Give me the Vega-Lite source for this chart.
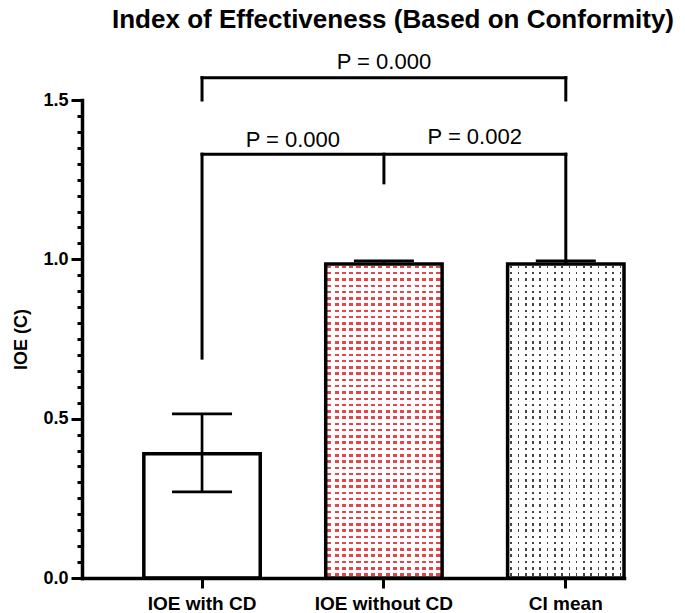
{
  "$schema": "https://vega.github.io/schema/vega-lite/v6.json",
  "width": 542,
  "height": 478,
  "autosize": "none",
  "padding": {"left": 82, "top": 100, "right": 61, "bottom": 35},
  "background": "white",
  "title": {"text": "Index of Effectiveness (Based on Conformity)", "font": "Liberation Sans", "fontSize": 26, "fontWeight": "bold", "color": "black", "anchor": "middle", "frame": "group", "dx": 40, "offset": -3, "baseline": "alphabetic"},
  "config": {"view": {"stroke": null}},
  "datasets": {
    "bars": [
      {"cat": "IOE with CD", "mean": 0.39, "lo": 0.27, "hi": 0.515},
      {"cat": "IOE without CD", "mean": 0.985, "lo": 0.975, "hi": 0.995},
      {"cat": "CI mean", "mean": 0.985, "lo": 0.975, "hi": 0.995}
    ],
    "brackets": [
      {"a": "IOE with CD", "b": "CI mean", "y": 1.57, "y2": 1.57},
      {"a": "IOE with CD", "b": "IOE with CD", "y": 1.5, "y2": 1.57},
      {"a": "CI mean", "b": "CI mean", "y": 1.5, "y2": 1.57},
      {"a": "IOE with CD", "b": "CI mean", "y": 1.33, "y2": 1.33},
      {"a": "IOE with CD", "b": "IOE with CD", "y": 0.69, "y2": 1.33},
      {"a": "CI mean", "b": "CI mean", "y": 0.99, "y2": 1.33},
      {"a": "IOE without CD", "b": "IOE without CD", "y": 1.24, "y2": 1.33}
    ],
    "ptop": [{"cat": "IOE without CD", "y": 1.62, "label": "P = 0.000"}],
    "pmid": [
      {"cat": "IOE with CD", "y": 1.374, "label": "P = 0.000"},
      {"cat": "IOE without CD", "y": 1.384, "label": "P = 0.002"}
    ]
  },
  "layer": [
    {
      "data": {"name": "bars"},
      "transform": [{"filter": "datum.cat == 'IOE without CD'"}],
      "mark": {"type": "bar", "fill": {"gradient": "linear", "x1": 0, "y1": 0, "x2": 1, "y2": 0, "stops": [
        {"offset": 0.014, "color": "#fff"}, {"offset": 0.014, "color": "#e8454a"}, {"offset": 0.049, "color": "#e8454a"}, {"offset": 0.049, "color": "#fff"},
        {"offset": 0.0765, "color": "#fff"}, {"offset": 0.0765, "color": "#e8454a"}, {"offset": 0.1115, "color": "#e8454a"}, {"offset": 0.1115, "color": "#fff"},
        {"offset": 0.139, "color": "#fff"}, {"offset": 0.139, "color": "#e8454a"}, {"offset": 0.174, "color": "#e8454a"}, {"offset": 0.174, "color": "#fff"},
        {"offset": 0.2015, "color": "#fff"}, {"offset": 0.2015, "color": "#e8454a"}, {"offset": 0.2365, "color": "#e8454a"}, {"offset": 0.2365, "color": "#fff"},
        {"offset": 0.264, "color": "#fff"}, {"offset": 0.264, "color": "#e8454a"}, {"offset": 0.299, "color": "#e8454a"}, {"offset": 0.299, "color": "#fff"},
        {"offset": 0.3265, "color": "#fff"}, {"offset": 0.3265, "color": "#e8454a"}, {"offset": 0.3615, "color": "#e8454a"}, {"offset": 0.3615, "color": "#fff"},
        {"offset": 0.389, "color": "#fff"}, {"offset": 0.389, "color": "#e8454a"}, {"offset": 0.424, "color": "#e8454a"}, {"offset": 0.424, "color": "#fff"},
        {"offset": 0.4515, "color": "#fff"}, {"offset": 0.4515, "color": "#e8454a"}, {"offset": 0.4865, "color": "#e8454a"}, {"offset": 0.4865, "color": "#fff"},
        {"offset": 0.514, "color": "#fff"}, {"offset": 0.514, "color": "#e8454a"}, {"offset": 0.549, "color": "#e8454a"}, {"offset": 0.549, "color": "#fff"},
        {"offset": 0.5765, "color": "#fff"}, {"offset": 0.5765, "color": "#e8454a"}, {"offset": 0.6115, "color": "#e8454a"}, {"offset": 0.6115, "color": "#fff"},
        {"offset": 0.639, "color": "#fff"}, {"offset": 0.639, "color": "#e8454a"}, {"offset": 0.674, "color": "#e8454a"}, {"offset": 0.674, "color": "#fff"},
        {"offset": 0.7015, "color": "#fff"}, {"offset": 0.7015, "color": "#e8454a"}, {"offset": 0.7365, "color": "#e8454a"}, {"offset": 0.7365, "color": "#fff"},
        {"offset": 0.764, "color": "#fff"}, {"offset": 0.764, "color": "#e8454a"}, {"offset": 0.799, "color": "#e8454a"}, {"offset": 0.799, "color": "#fff"},
        {"offset": 0.8265, "color": "#fff"}, {"offset": 0.8265, "color": "#e8454a"}, {"offset": 0.8615, "color": "#e8454a"}, {"offset": 0.8615, "color": "#fff"},
        {"offset": 0.889, "color": "#fff"}, {"offset": 0.889, "color": "#e8454a"}, {"offset": 0.924, "color": "#e8454a"}, {"offset": 0.924, "color": "#fff"},
        {"offset": 0.9515, "color": "#fff"}, {"offset": 0.9515, "color": "#e8454a"}, {"offset": 0.9865, "color": "#e8454a"}, {"offset": 0.9865, "color": "#fff"}
      ]}},
      "encoding": {
        "x": {"field": "cat", "type": "nominal", "scale": {"domain": ["IOE with CD", "IOE without CD", "CI mean"], "paddingInner": 0.36, "paddingOuter": 0.17, "align": 1},
          "axis": {"title": null, "labelAngle": 0, "labelFont": "Liberation Sans", "labelFontSize": 19, "labelFontWeight": "bold", "labelColor": "black", "labelPadding": 6, "tickSize": 10, "tickWidth": 3, "tickColor": "black", "domainColor": "black", "domainWidth": 3.5, "domainCap": "square"}},
        "y": {"field": "mean", "type": "quantitative", "scale": {"domain": [0, 1.5], "nice": false},
          "axis": {"title": "IOE (C)", "titleFont": "Liberation Sans", "titleFontSize": 18, "titleFontWeight": "bold", "titleColor": "black", "titlePadding": 12, "grid": false,
            "values": [0, 0.05, 0.1, 0.15, 0.2, 0.25, 0.3, 0.35, 0.4, 0.45, 0.5, 0.55, 0.6, 0.65, 0.7, 0.75, 0.8, 0.85, 0.9, 0.95, 1, 1.05, 1.1, 1.15, 1.2, 1.25, 1.3, 1.35, 1.4, 1.45, 1.5],
            "labelExpr": "abs(datum.value*2 - round(datum.value*2)) < 0.001 ? format(datum.value, '.1f') : ''",
            "tickSize": {"condition": {"test": "abs(datum.value*2 - round(datum.value*2)) < 0.001", "value": 11}, "value": 5},
            "tickWidth": 3, "tickColor": "black", "domainColor": "black", "domainWidth": 3.5, "domainCap": "square",
            "labelFont": "Liberation Sans", "labelFontSize": 18, "labelFontWeight": "bold", "labelColor": "black", "labelPadding": 3}}
      }
    },
    {
      "data": {"name": "bars"},
      "transform": [{"filter": "datum.cat == 'CI mean'"}],
      "mark": {"type": "bar", "fill": {"gradient": "linear", "x1": 0, "y1": 0, "x2": 1, "y2": 0, "stops": [
        {"offset": 0.024, "color": "#fff"}, {"offset": 0.024, "color": "#444"}, {"offset": 0.038, "color": "#444"}, {"offset": 0.038, "color": "#fff"},
        {"offset": 0.0865, "color": "#fff"}, {"offset": 0.0865, "color": "#444"}, {"offset": 0.1005, "color": "#444"}, {"offset": 0.1005, "color": "#fff"},
        {"offset": 0.149, "color": "#fff"}, {"offset": 0.149, "color": "#444"}, {"offset": 0.163, "color": "#444"}, {"offset": 0.163, "color": "#fff"},
        {"offset": 0.2115, "color": "#fff"}, {"offset": 0.2115, "color": "#444"}, {"offset": 0.2255, "color": "#444"}, {"offset": 0.2255, "color": "#fff"},
        {"offset": 0.274, "color": "#fff"}, {"offset": 0.274, "color": "#444"}, {"offset": 0.288, "color": "#444"}, {"offset": 0.288, "color": "#fff"},
        {"offset": 0.3365, "color": "#fff"}, {"offset": 0.3365, "color": "#444"}, {"offset": 0.3505, "color": "#444"}, {"offset": 0.3505, "color": "#fff"},
        {"offset": 0.399, "color": "#fff"}, {"offset": 0.399, "color": "#444"}, {"offset": 0.413, "color": "#444"}, {"offset": 0.413, "color": "#fff"},
        {"offset": 0.4615, "color": "#fff"}, {"offset": 0.4615, "color": "#444"}, {"offset": 0.4755, "color": "#444"}, {"offset": 0.4755, "color": "#fff"},
        {"offset": 0.524, "color": "#fff"}, {"offset": 0.524, "color": "#444"}, {"offset": 0.538, "color": "#444"}, {"offset": 0.538, "color": "#fff"},
        {"offset": 0.5865, "color": "#fff"}, {"offset": 0.5865, "color": "#444"}, {"offset": 0.6005, "color": "#444"}, {"offset": 0.6005, "color": "#fff"},
        {"offset": 0.649, "color": "#fff"}, {"offset": 0.649, "color": "#444"}, {"offset": 0.663, "color": "#444"}, {"offset": 0.663, "color": "#fff"},
        {"offset": 0.7115, "color": "#fff"}, {"offset": 0.7115, "color": "#444"}, {"offset": 0.7255, "color": "#444"}, {"offset": 0.7255, "color": "#fff"},
        {"offset": 0.774, "color": "#fff"}, {"offset": 0.774, "color": "#444"}, {"offset": 0.788, "color": "#444"}, {"offset": 0.788, "color": "#fff"},
        {"offset": 0.8365, "color": "#fff"}, {"offset": 0.8365, "color": "#444"}, {"offset": 0.8505, "color": "#444"}, {"offset": 0.8505, "color": "#fff"},
        {"offset": 0.899, "color": "#fff"}, {"offset": 0.899, "color": "#444"}, {"offset": 0.913, "color": "#444"}, {"offset": 0.913, "color": "#fff"},
        {"offset": 0.9615, "color": "#fff"}, {"offset": 0.9615, "color": "#444"}, {"offset": 0.9755, "color": "#444"}, {"offset": 0.9755, "color": "#fff"}
      ]}},
      "encoding": {
        "x": {"field": "cat", "type": "nominal", "scale": {"domain": ["IOE with CD", "IOE without CD", "CI mean"], "paddingInner": 0.36, "paddingOuter": 0.17, "align": 1},
          "axis": {"title": null, "labelAngle": 0, "labelFont": "Liberation Sans", "labelFontSize": 19, "labelFontWeight": "bold", "labelColor": "black", "labelPadding": 6, "tickSize": 10, "tickWidth": 3, "tickColor": "black", "domainColor": "black", "domainWidth": 3.5, "domainCap": "square"}},
        "y": {"field": "mean", "type": "quantitative", "scale": {"domain": [0, 1.5], "nice": false},
          "axis": {"title": "IOE (C)", "titleFont": "Liberation Sans", "titleFontSize": 18, "titleFontWeight": "bold", "titleColor": "black", "titlePadding": 12, "grid": false,
            "values": [0, 0.05, 0.1, 0.15, 0.2, 0.25, 0.3, 0.35, 0.4, 0.45, 0.5, 0.55, 0.6, 0.65, 0.7, 0.75, 0.8, 0.85, 0.9, 0.95, 1, 1.05, 1.1, 1.15, 1.2, 1.25, 1.3, 1.35, 1.4, 1.45, 1.5],
            "labelExpr": "abs(datum.value*2 - round(datum.value*2)) < 0.001 ? format(datum.value, '.1f') : ''",
            "tickSize": {"condition": {"test": "abs(datum.value*2 - round(datum.value*2)) < 0.001", "value": 11}, "value": 5},
            "tickWidth": 3, "tickColor": "black", "domainColor": "black", "domainWidth": 3.5, "domainCap": "square",
            "labelFont": "Liberation Sans", "labelFontSize": 18, "labelFontWeight": "bold", "labelColor": "black", "labelPadding": 3}}
      }
    },
    {
      "data": {"name": "bars"},
      "transform": [{"filter": "datum.cat != 'IOE with CD'"}],
      "mark": {"type": "bar", "fill": {"gradient": "linear", "x1": 0, "y1": 0, "x2": 0, "y2": 1, "stops": [
        {"offset": 0.005, "color": "#fff"}, {"offset": 0.005, "color": "rgba(255,255,255,0)"}, {"offset": 0.013, "color": "rgba(255,255,255,0)"}, {"offset": 0.013, "color": "#fff"},
        {"offset": 0.025, "color": "#fff"}, {"offset": 0.025, "color": "rgba(255,255,255,0)"}, {"offset": 0.033, "color": "rgba(255,255,255,0)"}, {"offset": 0.033, "color": "#fff"},
        {"offset": 0.045, "color": "#fff"}, {"offset": 0.045, "color": "rgba(255,255,255,0)"}, {"offset": 0.053, "color": "rgba(255,255,255,0)"}, {"offset": 0.053, "color": "#fff"},
        {"offset": 0.065, "color": "#fff"}, {"offset": 0.065, "color": "rgba(255,255,255,0)"}, {"offset": 0.073, "color": "rgba(255,255,255,0)"}, {"offset": 0.073, "color": "#fff"},
        {"offset": 0.085, "color": "#fff"}, {"offset": 0.085, "color": "rgba(255,255,255,0)"}, {"offset": 0.093, "color": "rgba(255,255,255,0)"}, {"offset": 0.093, "color": "#fff"},
        {"offset": 0.105, "color": "#fff"}, {"offset": 0.105, "color": "rgba(255,255,255,0)"}, {"offset": 0.113, "color": "rgba(255,255,255,0)"}, {"offset": 0.113, "color": "#fff"},
        {"offset": 0.125, "color": "#fff"}, {"offset": 0.125, "color": "rgba(255,255,255,0)"}, {"offset": 0.133, "color": "rgba(255,255,255,0)"}, {"offset": 0.133, "color": "#fff"},
        {"offset": 0.145, "color": "#fff"}, {"offset": 0.145, "color": "rgba(255,255,255,0)"}, {"offset": 0.153, "color": "rgba(255,255,255,0)"}, {"offset": 0.153, "color": "#fff"},
        {"offset": 0.165, "color": "#fff"}, {"offset": 0.165, "color": "rgba(255,255,255,0)"}, {"offset": 0.173, "color": "rgba(255,255,255,0)"}, {"offset": 0.173, "color": "#fff"},
        {"offset": 0.185, "color": "#fff"}, {"offset": 0.185, "color": "rgba(255,255,255,0)"}, {"offset": 0.193, "color": "rgba(255,255,255,0)"}, {"offset": 0.193, "color": "#fff"},
        {"offset": 0.205, "color": "#fff"}, {"offset": 0.205, "color": "rgba(255,255,255,0)"}, {"offset": 0.213, "color": "rgba(255,255,255,0)"}, {"offset": 0.213, "color": "#fff"},
        {"offset": 0.225, "color": "#fff"}, {"offset": 0.225, "color": "rgba(255,255,255,0)"}, {"offset": 0.233, "color": "rgba(255,255,255,0)"}, {"offset": 0.233, "color": "#fff"},
        {"offset": 0.245, "color": "#fff"}, {"offset": 0.245, "color": "rgba(255,255,255,0)"}, {"offset": 0.253, "color": "rgba(255,255,255,0)"}, {"offset": 0.253, "color": "#fff"},
        {"offset": 0.265, "color": "#fff"}, {"offset": 0.265, "color": "rgba(255,255,255,0)"}, {"offset": 0.273, "color": "rgba(255,255,255,0)"}, {"offset": 0.273, "color": "#fff"},
        {"offset": 0.285, "color": "#fff"}, {"offset": 0.285, "color": "rgba(255,255,255,0)"}, {"offset": 0.293, "color": "rgba(255,255,255,0)"}, {"offset": 0.293, "color": "#fff"},
        {"offset": 0.305, "color": "#fff"}, {"offset": 0.305, "color": "rgba(255,255,255,0)"}, {"offset": 0.313, "color": "rgba(255,255,255,0)"}, {"offset": 0.313, "color": "#fff"},
        {"offset": 0.325, "color": "#fff"}, {"offset": 0.325, "color": "rgba(255,255,255,0)"}, {"offset": 0.333, "color": "rgba(255,255,255,0)"}, {"offset": 0.333, "color": "#fff"},
        {"offset": 0.345, "color": "#fff"}, {"offset": 0.345, "color": "rgba(255,255,255,0)"}, {"offset": 0.353, "color": "rgba(255,255,255,0)"}, {"offset": 0.353, "color": "#fff"},
        {"offset": 0.365, "color": "#fff"}, {"offset": 0.365, "color": "rgba(255,255,255,0)"}, {"offset": 0.373, "color": "rgba(255,255,255,0)"}, {"offset": 0.373, "color": "#fff"},
        {"offset": 0.385, "color": "#fff"}, {"offset": 0.385, "color": "rgba(255,255,255,0)"}, {"offset": 0.393, "color": "rgba(255,255,255,0)"}, {"offset": 0.393, "color": "#fff"},
        {"offset": 0.405, "color": "#fff"}, {"offset": 0.405, "color": "rgba(255,255,255,0)"}, {"offset": 0.413, "color": "rgba(255,255,255,0)"}, {"offset": 0.413, "color": "#fff"},
        {"offset": 0.425, "color": "#fff"}, {"offset": 0.425, "color": "rgba(255,255,255,0)"}, {"offset": 0.433, "color": "rgba(255,255,255,0)"}, {"offset": 0.433, "color": "#fff"},
        {"offset": 0.445, "color": "#fff"}, {"offset": 0.445, "color": "rgba(255,255,255,0)"}, {"offset": 0.453, "color": "rgba(255,255,255,0)"}, {"offset": 0.453, "color": "#fff"},
        {"offset": 0.465, "color": "#fff"}, {"offset": 0.465, "color": "rgba(255,255,255,0)"}, {"offset": 0.473, "color": "rgba(255,255,255,0)"}, {"offset": 0.473, "color": "#fff"},
        {"offset": 0.485, "color": "#fff"}, {"offset": 0.485, "color": "rgba(255,255,255,0)"}, {"offset": 0.493, "color": "rgba(255,255,255,0)"}, {"offset": 0.493, "color": "#fff"},
        {"offset": 0.505, "color": "#fff"}, {"offset": 0.505, "color": "rgba(255,255,255,0)"}, {"offset": 0.513, "color": "rgba(255,255,255,0)"}, {"offset": 0.513, "color": "#fff"},
        {"offset": 0.525, "color": "#fff"}, {"offset": 0.525, "color": "rgba(255,255,255,0)"}, {"offset": 0.533, "color": "rgba(255,255,255,0)"}, {"offset": 0.533, "color": "#fff"},
        {"offset": 0.545, "color": "#fff"}, {"offset": 0.545, "color": "rgba(255,255,255,0)"}, {"offset": 0.553, "color": "rgba(255,255,255,0)"}, {"offset": 0.553, "color": "#fff"},
        {"offset": 0.565, "color": "#fff"}, {"offset": 0.565, "color": "rgba(255,255,255,0)"}, {"offset": 0.573, "color": "rgba(255,255,255,0)"}, {"offset": 0.573, "color": "#fff"},
        {"offset": 0.585, "color": "#fff"}, {"offset": 0.585, "color": "rgba(255,255,255,0)"}, {"offset": 0.593, "color": "rgba(255,255,255,0)"}, {"offset": 0.593, "color": "#fff"},
        {"offset": 0.605, "color": "#fff"}, {"offset": 0.605, "color": "rgba(255,255,255,0)"}, {"offset": 0.613, "color": "rgba(255,255,255,0)"}, {"offset": 0.613, "color": "#fff"},
        {"offset": 0.625, "color": "#fff"}, {"offset": 0.625, "color": "rgba(255,255,255,0)"}, {"offset": 0.633, "color": "rgba(255,255,255,0)"}, {"offset": 0.633, "color": "#fff"},
        {"offset": 0.645, "color": "#fff"}, {"offset": 0.645, "color": "rgba(255,255,255,0)"}, {"offset": 0.653, "color": "rgba(255,255,255,0)"}, {"offset": 0.653, "color": "#fff"},
        {"offset": 0.665, "color": "#fff"}, {"offset": 0.665, "color": "rgba(255,255,255,0)"}, {"offset": 0.673, "color": "rgba(255,255,255,0)"}, {"offset": 0.673, "color": "#fff"},
        {"offset": 0.685, "color": "#fff"}, {"offset": 0.685, "color": "rgba(255,255,255,0)"}, {"offset": 0.693, "color": "rgba(255,255,255,0)"}, {"offset": 0.693, "color": "#fff"},
        {"offset": 0.705, "color": "#fff"}, {"offset": 0.705, "color": "rgba(255,255,255,0)"}, {"offset": 0.713, "color": "rgba(255,255,255,0)"}, {"offset": 0.713, "color": "#fff"},
        {"offset": 0.725, "color": "#fff"}, {"offset": 0.725, "color": "rgba(255,255,255,0)"}, {"offset": 0.733, "color": "rgba(255,255,255,0)"}, {"offset": 0.733, "color": "#fff"},
        {"offset": 0.745, "color": "#fff"}, {"offset": 0.745, "color": "rgba(255,255,255,0)"}, {"offset": 0.753, "color": "rgba(255,255,255,0)"}, {"offset": 0.753, "color": "#fff"},
        {"offset": 0.765, "color": "#fff"}, {"offset": 0.765, "color": "rgba(255,255,255,0)"}, {"offset": 0.773, "color": "rgba(255,255,255,0)"}, {"offset": 0.773, "color": "#fff"},
        {"offset": 0.785, "color": "#fff"}, {"offset": 0.785, "color": "rgba(255,255,255,0)"}, {"offset": 0.793, "color": "rgba(255,255,255,0)"}, {"offset": 0.793, "color": "#fff"},
        {"offset": 0.805, "color": "#fff"}, {"offset": 0.805, "color": "rgba(255,255,255,0)"}, {"offset": 0.813, "color": "rgba(255,255,255,0)"}, {"offset": 0.813, "color": "#fff"},
        {"offset": 0.825, "color": "#fff"}, {"offset": 0.825, "color": "rgba(255,255,255,0)"}, {"offset": 0.833, "color": "rgba(255,255,255,0)"}, {"offset": 0.833, "color": "#fff"},
        {"offset": 0.845, "color": "#fff"}, {"offset": 0.845, "color": "rgba(255,255,255,0)"}, {"offset": 0.853, "color": "rgba(255,255,255,0)"}, {"offset": 0.853, "color": "#fff"},
        {"offset": 0.865, "color": "#fff"}, {"offset": 0.865, "color": "rgba(255,255,255,0)"}, {"offset": 0.873, "color": "rgba(255,255,255,0)"}, {"offset": 0.873, "color": "#fff"},
        {"offset": 0.885, "color": "#fff"}, {"offset": 0.885, "color": "rgba(255,255,255,0)"}, {"offset": 0.893, "color": "rgba(255,255,255,0)"}, {"offset": 0.893, "color": "#fff"},
        {"offset": 0.905, "color": "#fff"}, {"offset": 0.905, "color": "rgba(255,255,255,0)"}, {"offset": 0.913, "color": "rgba(255,255,255,0)"}, {"offset": 0.913, "color": "#fff"},
        {"offset": 0.925, "color": "#fff"}, {"offset": 0.925, "color": "rgba(255,255,255,0)"}, {"offset": 0.933, "color": "rgba(255,255,255,0)"}, {"offset": 0.933, "color": "#fff"},
        {"offset": 0.945, "color": "#fff"}, {"offset": 0.945, "color": "rgba(255,255,255,0)"}, {"offset": 0.953, "color": "rgba(255,255,255,0)"}, {"offset": 0.953, "color": "#fff"},
        {"offset": 0.965, "color": "#fff"}, {"offset": 0.965, "color": "rgba(255,255,255,0)"}, {"offset": 0.973, "color": "rgba(255,255,255,0)"}, {"offset": 0.973, "color": "#fff"},
        {"offset": 0.985, "color": "#fff"}, {"offset": 0.985, "color": "rgba(255,255,255,0)"}, {"offset": 0.993, "color": "rgba(255,255,255,0)"}, {"offset": 0.993, "color": "#fff"}
      ]}},
      "encoding": {
        "x": {"field": "cat", "type": "nominal", "scale": {"domain": ["IOE with CD", "IOE without CD", "CI mean"], "paddingInner": 0.36, "paddingOuter": 0.17, "align": 1},
          "axis": {"title": null, "labelAngle": 0, "labelFont": "Liberation Sans", "labelFontSize": 19, "labelFontWeight": "bold", "labelColor": "black", "labelPadding": 6, "tickSize": 10, "tickWidth": 3, "tickColor": "black", "domainColor": "black", "domainWidth": 3.5, "domainCap": "square"}},
        "y": {"field": "mean", "type": "quantitative", "scale": {"domain": [0, 1.5], "nice": false},
          "axis": {"title": "IOE (C)", "titleFont": "Liberation Sans", "titleFontSize": 18, "titleFontWeight": "bold", "titleColor": "black", "titlePadding": 12, "grid": false,
            "values": [0, 0.05, 0.1, 0.15, 0.2, 0.25, 0.3, 0.35, 0.4, 0.45, 0.5, 0.55, 0.6, 0.65, 0.7, 0.75, 0.8, 0.85, 0.9, 0.95, 1, 1.05, 1.1, 1.15, 1.2, 1.25, 1.3, 1.35, 1.4, 1.45, 1.5],
            "labelExpr": "abs(datum.value*2 - round(datum.value*2)) < 0.001 ? format(datum.value, '.1f') : ''",
            "tickSize": {"condition": {"test": "abs(datum.value*2 - round(datum.value*2)) < 0.001", "value": 11}, "value": 5},
            "tickWidth": 3, "tickColor": "black", "domainColor": "black", "domainWidth": 3.5, "domainCap": "square",
            "labelFont": "Liberation Sans", "labelFontSize": 18, "labelFontWeight": "bold", "labelColor": "black", "labelPadding": 3}}
      }
    },
    {
      "data": {"name": "bars"},
      "mark": {"type": "bar", "fillOpacity": 0, "stroke": "black", "strokeWidth": 3.5, "strokeJoin": "miter"},
      "encoding": {
        "x": {"field": "cat", "type": "nominal", "scale": {"domain": ["IOE with CD", "IOE without CD", "CI mean"], "paddingInner": 0.36, "paddingOuter": 0.17, "align": 1},
          "axis": {"title": null, "labelAngle": 0, "labelFont": "Liberation Sans", "labelFontSize": 19, "labelFontWeight": "bold", "labelColor": "black", "labelPadding": 6, "tickSize": 10, "tickWidth": 3, "tickColor": "black", "domainColor": "black", "domainWidth": 3.5, "domainCap": "square"}},
        "y": {"field": "mean", "type": "quantitative", "scale": {"domain": [0, 1.5], "nice": false},
          "axis": {"title": "IOE (C)", "titleFont": "Liberation Sans", "titleFontSize": 18, "titleFontWeight": "bold", "titleColor": "black", "titlePadding": 12, "grid": false,
            "values": [0, 0.05, 0.1, 0.15, 0.2, 0.25, 0.3, 0.35, 0.4, 0.45, 0.5, 0.55, 0.6, 0.65, 0.7, 0.75, 0.8, 0.85, 0.9, 0.95, 1, 1.05, 1.1, 1.15, 1.2, 1.25, 1.3, 1.35, 1.4, 1.45, 1.5],
            "labelExpr": "abs(datum.value*2 - round(datum.value*2)) < 0.001 ? format(datum.value, '.1f') : ''",
            "tickSize": {"condition": {"test": "abs(datum.value*2 - round(datum.value*2)) < 0.001", "value": 11}, "value": 5},
            "tickWidth": 3, "tickColor": "black", "domainColor": "black", "domainWidth": 3.5, "domainCap": "square",
            "labelFont": "Liberation Sans", "labelFontSize": 18, "labelFontWeight": "bold", "labelColor": "black", "labelPadding": 3}}
      }
    },
    {
      "data": {"name": "bars"},
      "mark": {"type": "rule", "color": "black", "strokeWidth": 2.7},
      "encoding": {
        "x": {"field": "cat", "type": "nominal", "scale": {"domain": ["IOE with CD", "IOE without CD", "CI mean"], "paddingInner": 0.36, "paddingOuter": 0.17, "align": 1},
          "axis": {"title": null, "labelAngle": 0, "labelFont": "Liberation Sans", "labelFontSize": 19, "labelFontWeight": "bold", "labelColor": "black", "labelPadding": 6, "tickSize": 10, "tickWidth": 3, "tickColor": "black", "domainColor": "black", "domainWidth": 3.5, "domainCap": "square"}},
        "y": {"field": "mean", "type": "quantitative", "scale": {"domain": [0, 1.5], "nice": false},
          "axis": {"title": "IOE (C)", "titleFont": "Liberation Sans", "titleFontSize": 18, "titleFontWeight": "bold", "titleColor": "black", "titlePadding": 12, "grid": false,
            "values": [0, 0.05, 0.1, 0.15, 0.2, 0.25, 0.3, 0.35, 0.4, 0.45, 0.5, 0.55, 0.6, 0.65, 0.7, 0.75, 0.8, 0.85, 0.9, 0.95, 1, 1.05, 1.1, 1.15, 1.2, 1.25, 1.3, 1.35, 1.4, 1.45, 1.5],
            "labelExpr": "abs(datum.value*2 - round(datum.value*2)) < 0.001 ? format(datum.value, '.1f') : ''",
            "tickSize": {"condition": {"test": "abs(datum.value*2 - round(datum.value*2)) < 0.001", "value": 11}, "value": 5},
            "tickWidth": 3, "tickColor": "black", "domainColor": "black", "domainWidth": 3.5, "domainCap": "square",
            "labelFont": "Liberation Sans", "labelFontSize": 18, "labelFontWeight": "bold", "labelColor": "black", "labelPadding": 3}},
        "y2": {"field": "hi"}
      }
    },
    {
      "data": {"name": "bars"},
      "transform": [{"filter": "datum.cat == 'IOE with CD'"}],
      "mark": {"type": "rule", "color": "black", "strokeWidth": 2.7},
      "encoding": {
        "x": {"field": "cat", "type": "nominal", "scale": {"domain": ["IOE with CD", "IOE without CD", "CI mean"], "paddingInner": 0.36, "paddingOuter": 0.17, "align": 1},
          "axis": {"title": null, "labelAngle": 0, "labelFont": "Liberation Sans", "labelFontSize": 19, "labelFontWeight": "bold", "labelColor": "black", "labelPadding": 6, "tickSize": 10, "tickWidth": 3, "tickColor": "black", "domainColor": "black", "domainWidth": 3.5, "domainCap": "square"}},
        "y": {"field": "lo", "type": "quantitative", "scale": {"domain": [0, 1.5], "nice": false},
          "axis": {"title": "IOE (C)", "titleFont": "Liberation Sans", "titleFontSize": 18, "titleFontWeight": "bold", "titleColor": "black", "titlePadding": 12, "grid": false,
            "values": [0, 0.05, 0.1, 0.15, 0.2, 0.25, 0.3, 0.35, 0.4, 0.45, 0.5, 0.55, 0.6, 0.65, 0.7, 0.75, 0.8, 0.85, 0.9, 0.95, 1, 1.05, 1.1, 1.15, 1.2, 1.25, 1.3, 1.35, 1.4, 1.45, 1.5],
            "labelExpr": "abs(datum.value*2 - round(datum.value*2)) < 0.001 ? format(datum.value, '.1f') : ''",
            "tickSize": {"condition": {"test": "abs(datum.value*2 - round(datum.value*2)) < 0.001", "value": 11}, "value": 5},
            "tickWidth": 3, "tickColor": "black", "domainColor": "black", "domainWidth": 3.5, "domainCap": "square",
            "labelFont": "Liberation Sans", "labelFontSize": 18, "labelFontWeight": "bold", "labelColor": "black", "labelPadding": 3}},
        "y2": {"field": "mean"}
      }
    },
    {
      "data": {"name": "bars"},
      "transform": [{"filter": "datum.cat == 'IOE with CD'"}],
      "mark": {"type": "tick", "color": "black", "thickness": 2.7, "size": 60, "opacity": 1},
      "encoding": {
        "x": {"field": "cat", "type": "nominal", "scale": {"domain": ["IOE with CD", "IOE without CD", "CI mean"], "paddingInner": 0.36, "paddingOuter": 0.17, "align": 1},
          "axis": {"title": null, "labelAngle": 0, "labelFont": "Liberation Sans", "labelFontSize": 19, "labelFontWeight": "bold", "labelColor": "black", "labelPadding": 6, "tickSize": 10, "tickWidth": 3, "tickColor": "black", "domainColor": "black", "domainWidth": 3.5, "domainCap": "square"}},
        "y": {"field": "lo", "type": "quantitative", "scale": {"domain": [0, 1.5], "nice": false},
          "axis": {"title": "IOE (C)", "titleFont": "Liberation Sans", "titleFontSize": 18, "titleFontWeight": "bold", "titleColor": "black", "titlePadding": 12, "grid": false,
            "values": [0, 0.05, 0.1, 0.15, 0.2, 0.25, 0.3, 0.35, 0.4, 0.45, 0.5, 0.55, 0.6, 0.65, 0.7, 0.75, 0.8, 0.85, 0.9, 0.95, 1, 1.05, 1.1, 1.15, 1.2, 1.25, 1.3, 1.35, 1.4, 1.45, 1.5],
            "labelExpr": "abs(datum.value*2 - round(datum.value*2)) < 0.001 ? format(datum.value, '.1f') : ''",
            "tickSize": {"condition": {"test": "abs(datum.value*2 - round(datum.value*2)) < 0.001", "value": 11}, "value": 5},
            "tickWidth": 3, "tickColor": "black", "domainColor": "black", "domainWidth": 3.5, "domainCap": "square",
            "labelFont": "Liberation Sans", "labelFontSize": 18, "labelFontWeight": "bold", "labelColor": "black", "labelPadding": 3}}
      }
    },
    {
      "data": {"name": "bars"},
      "mark": {"type": "tick", "color": "black", "thickness": 2.7, "size": 60, "opacity": 1},
      "encoding": {
        "x": {"field": "cat", "type": "nominal", "scale": {"domain": ["IOE with CD", "IOE without CD", "CI mean"], "paddingInner": 0.36, "paddingOuter": 0.17, "align": 1},
          "axis": {"title": null, "labelAngle": 0, "labelFont": "Liberation Sans", "labelFontSize": 19, "labelFontWeight": "bold", "labelColor": "black", "labelPadding": 6, "tickSize": 10, "tickWidth": 3, "tickColor": "black", "domainColor": "black", "domainWidth": 3.5, "domainCap": "square"}},
        "y": {"field": "hi", "type": "quantitative", "scale": {"domain": [0, 1.5], "nice": false},
          "axis": {"title": "IOE (C)", "titleFont": "Liberation Sans", "titleFontSize": 18, "titleFontWeight": "bold", "titleColor": "black", "titlePadding": 12, "grid": false,
            "values": [0, 0.05, 0.1, 0.15, 0.2, 0.25, 0.3, 0.35, 0.4, 0.45, 0.5, 0.55, 0.6, 0.65, 0.7, 0.75, 0.8, 0.85, 0.9, 0.95, 1, 1.05, 1.1, 1.15, 1.2, 1.25, 1.3, 1.35, 1.4, 1.45, 1.5],
            "labelExpr": "abs(datum.value*2 - round(datum.value*2)) < 0.001 ? format(datum.value, '.1f') : ''",
            "tickSize": {"condition": {"test": "abs(datum.value*2 - round(datum.value*2)) < 0.001", "value": 11}, "value": 5},
            "tickWidth": 3, "tickColor": "black", "domainColor": "black", "domainWidth": 3.5, "domainCap": "square",
            "labelFont": "Liberation Sans", "labelFontSize": 18, "labelFontWeight": "bold", "labelColor": "black", "labelPadding": 3}}
      }
    },
    {
      "data": {"name": "brackets"},
      "mark": {"type": "rule", "color": "black", "strokeWidth": 3, "strokeCap": "square"},
      "encoding": {
        "x": {"field": "a", "type": "nominal", "scale": {"domain": ["IOE with CD", "IOE without CD", "CI mean"], "paddingInner": 0.36, "paddingOuter": 0.17, "align": 1},
          "axis": {"title": null, "labelAngle": 0, "labelFont": "Liberation Sans", "labelFontSize": 19, "labelFontWeight": "bold", "labelColor": "black", "labelPadding": 6, "tickSize": 10, "tickWidth": 3, "tickColor": "black", "domainColor": "black", "domainWidth": 3.5, "domainCap": "square"}},
        "x2": {"field": "b"},
        "y": {"field": "y", "type": "quantitative", "scale": {"domain": [0, 1.5], "nice": false},
          "axis": {"title": "IOE (C)", "titleFont": "Liberation Sans", "titleFontSize": 18, "titleFontWeight": "bold", "titleColor": "black", "titlePadding": 12, "grid": false,
            "values": [0, 0.05, 0.1, 0.15, 0.2, 0.25, 0.3, 0.35, 0.4, 0.45, 0.5, 0.55, 0.6, 0.65, 0.7, 0.75, 0.8, 0.85, 0.9, 0.95, 1, 1.05, 1.1, 1.15, 1.2, 1.25, 1.3, 1.35, 1.4, 1.45, 1.5],
            "labelExpr": "abs(datum.value*2 - round(datum.value*2)) < 0.001 ? format(datum.value, '.1f') : ''",
            "tickSize": {"condition": {"test": "abs(datum.value*2 - round(datum.value*2)) < 0.001", "value": 11}, "value": 5},
            "tickWidth": 3, "tickColor": "black", "domainColor": "black", "domainWidth": 3.5, "domainCap": "square",
            "labelFont": "Liberation Sans", "labelFontSize": 18, "labelFontWeight": "bold", "labelColor": "black", "labelPadding": 3}},
        "y2": {"field": "y2"}
      }
    },
    {
      "data": {"name": "ptop"},
      "mark": {"type": "text", "font": "Liberation Sans", "fontSize": 22, "color": "black", "baseline": "middle", "align": "center"},
      "encoding": {
        "x": {"field": "cat", "type": "nominal", "scale": {"domain": ["IOE with CD", "IOE without CD", "CI mean"], "paddingInner": 0.36, "paddingOuter": 0.17, "align": 1},
          "axis": {"title": null, "labelAngle": 0, "labelFont": "Liberation Sans", "labelFontSize": 19, "labelFontWeight": "bold", "labelColor": "black", "labelPadding": 6, "tickSize": 10, "tickWidth": 3, "tickColor": "black", "domainColor": "black", "domainWidth": 3.5, "domainCap": "square"}},
        "y": {"field": "y", "type": "quantitative", "scale": {"domain": [0, 1.5], "nice": false},
          "axis": {"title": "IOE (C)", "titleFont": "Liberation Sans", "titleFontSize": 18, "titleFontWeight": "bold", "titleColor": "black", "titlePadding": 12, "grid": false,
            "values": [0, 0.05, 0.1, 0.15, 0.2, 0.25, 0.3, 0.35, 0.4, 0.45, 0.5, 0.55, 0.6, 0.65, 0.7, 0.75, 0.8, 0.85, 0.9, 0.95, 1, 1.05, 1.1, 1.15, 1.2, 1.25, 1.3, 1.35, 1.4, 1.45, 1.5],
            "labelExpr": "abs(datum.value*2 - round(datum.value*2)) < 0.001 ? format(datum.value, '.1f') : ''",
            "tickSize": {"condition": {"test": "abs(datum.value*2 - round(datum.value*2)) < 0.001", "value": 11}, "value": 5},
            "tickWidth": 3, "tickColor": "black", "domainColor": "black", "domainWidth": 3.5, "domainCap": "square",
            "labelFont": "Liberation Sans", "labelFontSize": 18, "labelFontWeight": "bold", "labelColor": "black", "labelPadding": 3}},
        "text": {"field": "label"}
      }
    },
    {
      "data": {"name": "pmid"},
      "mark": {"type": "text", "font": "Liberation Sans", "fontSize": 22, "color": "black", "baseline": "middle", "align": "center"},
      "encoding": {
        "x": {"field": "cat", "type": "nominal", "bandPosition": 1.28, "scale": {"domain": ["IOE with CD", "IOE without CD", "CI mean"], "paddingInner": 0.36, "paddingOuter": 0.17, "align": 1},
          "axis": {"title": null, "labelAngle": 0, "labelFont": "Liberation Sans", "labelFontSize": 19, "labelFontWeight": "bold", "labelColor": "black", "labelPadding": 6, "tickSize": 10, "tickWidth": 3, "tickColor": "black", "domainColor": "black", "domainWidth": 3.5, "domainCap": "square"}},
        "y": {"field": "y", "type": "quantitative", "scale": {"domain": [0, 1.5], "nice": false},
          "axis": {"title": "IOE (C)", "titleFont": "Liberation Sans", "titleFontSize": 18, "titleFontWeight": "bold", "titleColor": "black", "titlePadding": 12, "grid": false,
            "values": [0, 0.05, 0.1, 0.15, 0.2, 0.25, 0.3, 0.35, 0.4, 0.45, 0.5, 0.55, 0.6, 0.65, 0.7, 0.75, 0.8, 0.85, 0.9, 0.95, 1, 1.05, 1.1, 1.15, 1.2, 1.25, 1.3, 1.35, 1.4, 1.45, 1.5],
            "labelExpr": "abs(datum.value*2 - round(datum.value*2)) < 0.001 ? format(datum.value, '.1f') : ''",
            "tickSize": {"condition": {"test": "abs(datum.value*2 - round(datum.value*2)) < 0.001", "value": 11}, "value": 5},
            "tickWidth": 3, "tickColor": "black", "domainColor": "black", "domainWidth": 3.5, "domainCap": "square",
            "labelFont": "Liberation Sans", "labelFontSize": 18, "labelFontWeight": "bold", "labelColor": "black", "labelPadding": 3}},
        "text": {"field": "label"}
      }
    }
  ]
}
